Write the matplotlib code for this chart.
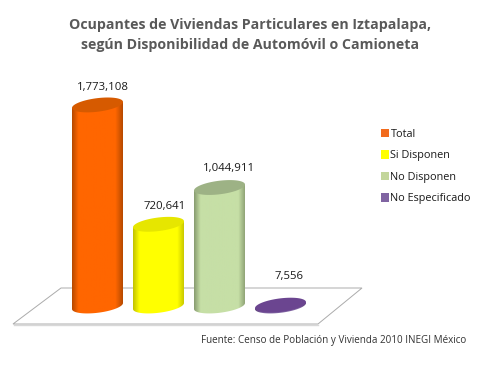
"""Ocupantes de viviendas en Iztapalapa, cylinder bar chart."""

import matplotlib

matplotlib.use("Agg")
import matplotlib.pyplot as plt
import numpy as np
from matplotlib.colors import LinearSegmentedColormap
from matplotlib.patches import Patch, PathPatch, Polygon
from matplotlib.path import Path

categories = ["Total", "Si Disponen", "No Disponen", "No Especificado"]
values = [1773108, 720641, 1044911, 7556]
value_labels = ["1,773,108", "720,641", "1,044,911", "7,556"]
title_lines = [
    "Ocupantes de Viviendas Particulares en Iztapalapa,",
    "según Disponibilidad de Automóvil o Camioneta",
]
source = "Fuente: Censo de Población y Vivienda 2010 INEGI México"

body_colors = ["#FF6600", "#FFFF00", "#C6DFA6", "#8064A2"]
edge_colors = ["#B84A00", "#C4C400", "#8A9E72", "#5C4576"]
top_colors = ["#D65A00", "#E6E600", "#9DB285", "#6B4590"]
legend_colors = ["#F26B1D", "#FFFF00", "#C3D69B", "#8064A2"]

W, H = 500, 380
X0, STEP = 97.5, 61.0  # pixel centre of first bar, pixel spacing
BASE_Y = 306.0  # pixel row of value 0
PX_PER_VALUE = 1.134e-4
HALF_W = 25.5 / STEP
RY = 6.8 / PX_PER_VALUE  # ellipse half height in value units
SHEAR = 3.0 / PX_PER_VALUE  # tilt of the ellipse
LABEL_DX = [5.5, 6.5, 9.5, 8.5]
LABEL_DY = [17, 18, 19.5, 29]

plt.rcParams["font.family"] = ["Open Sans", "DejaVu Sans"]

fig = plt.figure(figsize=(W / 100, H / 100), dpi=100, facecolor="white")
ax = fig.add_axes([0, 0, 1, 1])
ax.axis("off")


def px(x, y):
    """Convert image pixels to figure fractions."""
    return x / W, 1 - y / H


def ellipse_points(cx, cy):
    t = np.linspace(0, 2 * np.pi, 80)
    return np.column_stack(
        [cx + HALF_W * np.cos(t), cy + RY * np.sin(t) + SHEAR * np.cos(t)]
    )


# floor
floor = Polygon(
    [px(13, 324), px(61, 288), px(362, 288), px(318, 324)],
    closed=True, transform=fig.transFigure, facecolor="white",
    edgecolor="#ABABAB", linewidth=0.7, zorder=1,
)
ax.add_patch(floor)
ax.plot(*zip(px(14, 325), px(318, 325)), transform=fig.transFigure,
        color="#D8D8D8", linewidth=1.0, zorder=0.9)

for i, (val, label) in enumerate(zip(values, value_labels)):
    high = ellipse_points(i, val)
    # body outline: lower half of the base ellipse, then straight across the top
    t = np.linspace(0, np.pi, 60)
    base_arc = np.column_stack(
        [i + HALF_W * np.cos(t), -RY * np.sin(t) + SHEAR * np.cos(t)]
    )
    top_edge = np.array([[i - HALF_W, val - SHEAR], [i + HALF_W, val + SHEAR]])
    outline = np.vstack([base_arc, top_edge, base_arc[:1]])
    cmap = LinearSegmentedColormap.from_list(
        f"cyl{i}",
        [(0, edge_colors[i]), (0.12, body_colors[i]), (0.86, body_colors[i]),
         (1, edge_colors[i])],
    )
    im = ax.imshow(
        np.linspace(0, 1, 64)[None, :], cmap=cmap, aspect="auto",
        extent=[i - HALF_W, i + HALF_W, -RY - SHEAR, val + RY + SHEAR], zorder=2,
    )
    im.set_clip_path(PathPatch(Path(outline), transform=ax.transData))
    ax.fill(high[:, 0], high[:, 1], color=top_colors[i], linewidth=0, zorder=3)
    ax.annotate(
        label, (i, val), xytext=(LABEL_DX[i] * 0.72, LABEL_DY[i] * 0.72),
        textcoords="offset points", ha="center", va="center",
        fontsize=8.2, color="#1A1A1A", zorder=4,
    )
ax.set_xlim(-X0 / STEP, (W - X0) / STEP)
ax.set_ylim((BASE_Y - H) / PX_PER_VALUE, BASE_Y / PX_PER_VALUE)

handles = [Patch(facecolor=c, edgecolor="none") for c in legend_colors]
ax.legend(
    handles, categories, loc="upper left", bbox_to_anchor=px(371, 119),
    bbox_transform=fig.transFigure, frameon=False, fontsize=7.8,
    handlelength=0.8, handleheight=0.8, handletextpad=0.1,
    labelspacing=0.97, labelcolor="#1A1A1A",
)

for line, y in zip(title_lines, [25.5, 45]):
    fig.text(*px(250, y), line, ha="center", va="center", fontsize=10.2,
             fontweight="bold", color="#595959")
fig.text(*px(466, 341), source, ha="right", va="center", fontsize=7.15,
         color="#333333")

fig.savefig("out.png", dpi=100, facecolor="white")
plt.close(fig)
